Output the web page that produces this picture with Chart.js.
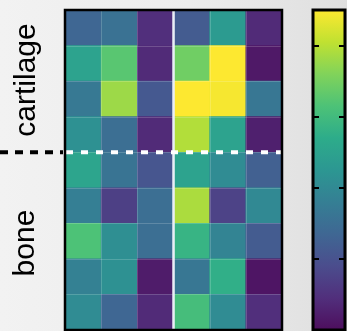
<!DOCTYPE html>
<html>
<head>
<meta charset="utf-8">
<script src="https://cdn.jsdelivr.net/npm/chart.js@4.4.1/dist/chart.umd.min.js"></script>
<style>
  html, body { margin: 0; padding: 0; }
  body {
    width: 347px; height: 331px; overflow: hidden; position: relative;
    background: linear-gradient(to right, #f2f2f2 0%, #ececec 55%, #dfdfdf 100%);
    font-family: "Liberation Sans", Arial, sans-serif;
  }
  #heat { position: absolute; left: 0; top: 0; }
  #cbar { position: absolute; left: 300px; top: 0; }
  .lab {
    position: absolute; font-size: 30px; color: #000; white-space: nowrap;
    transform: translate(-50%, -50%) rotate(-90deg);
  }
</style>
</head>
<body>
<canvas id="heat" width="300" height="331"></canvas>
<canvas id="cbar" width="47" height="331"></canvas>
<div class="lab" style="left:25px; top:80px;">cartilage</div>
<div class="lab" style="left:24px; top:243px;">bone</div>
<script>
// --- Data (top row first, colour scale 0..9) ---
const columns = ['1', '2', '3', '4', '5', '6'];
const cartilageRows = [
    [2.7, 3.1, 0.9, 2.3, 4.7, 0.8],
    [5.0, 6.5, 0.8, 6.9, 9.0, 0.3],
    [3.4, 7.6, 2.2, 9.0, 8.9, 3.3],
    [4.3, 3.0, 0.8, 7.9, 5.0, 0.5]
];
const boneRows = [
    [5.1, 3.2, 2.1, 5.0, 4.1, 2.5],
    [3.6, 1.4, 3.0, 7.8, 1.5, 4.0],
    [6.3, 4.2, 3.0, 5.7, 3.8, 2.3],
    [3.7, 4.3, 0.4, 3.3, 5.5, 0.2],
    [4.1, 2.7, 0.8, 6.1, 4.1, 0.9]
];
const colorMin = 0;
const colorMax = 9;
const colorbarTicks = [2, 4, 6, 8];
const splitColumn = 3; // white line after this many columns

// --- viridis colour map (slightly lifted, the figure looks a bit washed out) ---
const viridisStops = ['#440154', '#482475', '#414487', '#355f8d', '#2a788e', '#21918c',
    '#22a884', '#44bf70', '#7ad151', '#bddf26', '#fde725'];
const lift = 0.05;

function hexToRgb(h) {
    return [parseInt(h.slice(1, 3), 16), parseInt(h.slice(3, 5), 16), parseInt(h.slice(5, 7), 16)];
}

function rgbStr(c) {
    const l = c.map(v => Math.round(v + (255 - v) * lift));
    return `rgb(${l[0]}, ${l[1]}, ${l[2]})`;
}

function viridis(t) {
    t = Math.max(0, Math.min(1, t));
    const pos = t * (viridisStops.length - 1);
    const i = Math.min(Math.floor(pos), viridisStops.length - 2);
    const f = pos - i;
    const a = hexToRgb(viridisStops[i]);
    const b = hexToRgb(viridisStops[i + 1]);
    return rgbStr(a.map((v, k) => v + (b[k] - v) * f));
}

const norm = v => (v - colorMin) / (colorMax - colorMin);

// --- Heatmap overlay: cell lines, split lines, frame ---
const heatOverlay = {
    id: 'heatOverlay',
    afterDatasetsDraw(chart) {
        const { ctx, chartArea: a, scales: { x, y } } = chart;
        const rowCount = cartilageRows.length + boneRows.length;
        ctx.save();

        // faint lines between cells
        ctx.strokeStyle = 'rgba(255,255,255,0.18)';
        ctx.lineWidth = 1;
        ctx.beginPath();
        for (let i = 1; i < columns.length; i++) {
            const px = Math.round((x.getPixelForValue(i - 1) + x.getPixelForValue(i)) / 2) + 0.5;
            ctx.moveTo(px, a.top);
            ctx.lineTo(px, a.bottom);
        }
        for (let j = 1; j < rowCount; j++) {
            const py = Math.round(y.getPixelForValue(j)) + 0.5;
            ctx.moveTo(a.left, py);
            ctx.lineTo(a.right, py);
        }
        ctx.stroke();

        // white vertical split
        const sx = (x.getPixelForValue(splitColumn - 1) + x.getPixelForValue(splitColumn)) / 2;
        ctx.strokeStyle = '#e9eef6';
        ctx.lineWidth = 2.5;
        ctx.beginPath();
        ctx.moveTo(sx, a.top);
        ctx.lineTo(sx, a.bottom);
        ctx.stroke();

        // dashed cartilage / bone split
        const sy = y.getPixelForValue(boneRows.length);
        ctx.lineWidth = 4;
        ctx.setLineDash([8, 7]);
        ctx.strokeStyle = '#000';
        ctx.beginPath();
        ctx.moveTo(0, sy);
        ctx.lineTo(a.left - 2, sy);
        ctx.stroke();
        ctx.setLineDash([7, 8]);
        ctx.strokeStyle = '#fff';
        ctx.beginPath();
        ctx.moveTo(a.left + 1, sy);
        ctx.lineTo(a.right, sy);
        ctx.stroke();

        // frame
        ctx.setLineDash([]);
        ctx.strokeStyle = '#000';
        ctx.lineWidth = 2.5;
        ctx.strokeRect(a.left, a.top, a.right - a.left, a.bottom - a.top);
        ctx.restore();
    }
};

const allRows = cartilageRows.concat(boneRows);
const heatDatasets = allRows.slice().reverse().map(row => ({
    data: row.map(() => 1),
    backgroundColor: row.map(v => viridis(norm(v))),
    borderWidth: 0,
    barPercentage: 1,
    categoryPercentage: 1
}));

new Chart(document.getElementById('heat'), {
    type: 'bar',
    data: { labels: columns, datasets: heatDatasets },
    options: {
        responsive: false,
        animation: false,
        devicePixelRatio: 1,
        layout: { padding: { left: 65, top: 10, right: 18, bottom: 1 } },
        plugins: { legend: { display: false }, tooltip: { enabled: false } },
        scales: {
            x: { stacked: true, display: false },
            y: { stacked: true, display: false, min: 0, max: allRows.length }
        }
    },
    plugins: [heatOverlay]
});

// --- Colour bar ---
const cbarOverlay = {
    id: 'cbarOverlay',
    afterDatasetsDraw(chart) {
        const { ctx, chartArea: a, scales: { y } } = chart;
        ctx.save();
        ctx.strokeStyle = '#000';
        ctx.lineWidth = 2;
        ctx.beginPath();
        colorbarTicks.forEach(t => {
            const py = Math.round(y.getPixelForValue(t));
            ctx.moveTo(a.left, py);
            ctx.lineTo(a.left + 6, py);
            ctx.moveTo(a.right - 6, py);
            ctx.lineTo(a.right, py);
        });
        ctx.stroke();
        ctx.lineWidth = 3;
        ctx.strokeRect(a.left, a.top, a.right - a.left, a.bottom - a.top);
        ctx.restore();
    }
};

new Chart(document.getElementById('cbar'), {
    type: 'bar',
    data: {
        labels: [''],
        datasets: [{
            data: [[colorMin, colorMax]],
            backgroundColor: (c) => {
                const area = c.chart.chartArea;
                if (!area) return '#888';
                const g = c.chart.ctx.createLinearGradient(0, area.bottom, 0, area.top);
                viridisStops.forEach((s, i) => g.addColorStop(i / (viridisStops.length - 1), rgbStr(hexToRgb(s))));
                return g;
            },
            borderWidth: 0,
            barPercentage: 1,
            categoryPercentage: 1
        }]
    },
    options: {
        responsive: false,
        animation: false,
        devicePixelRatio: 1,
        layout: { padding: { left: 13, top: 10, right: 2, bottom: 1 } },
        plugins: { legend: { display: false }, tooltip: { enabled: false } },
        scales: {
            x: { display: false },
            y: { display: false, min: colorMin, max: colorMax }
        }
    },
    plugins: [cbarOverlay]
});
</script>
</body>
</html>
